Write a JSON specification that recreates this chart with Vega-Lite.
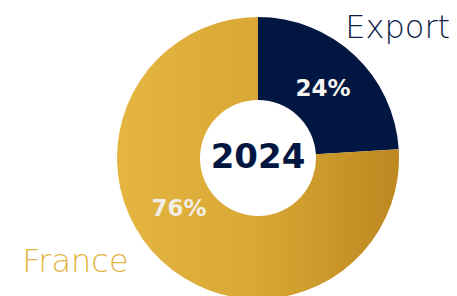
{
  "$schema": "https://vega.github.io/schema/vega-lite/v6.json",
  "width": 398,
  "height": 276,
  "autosize": {"type": "none"},
  "padding": {"left": 59, "top": 20, "right": 0, "bottom": 0},
  "background": "white",
  "datasets": {
    "shares": [
      {"category": "Export", "value": 0.24},
      {"category": "France", "value": 0.76}
    ],
    "year": [{"year": "2024"}]
  },
  "data": {"name": "shares"},
  "config": {"view": {"stroke": null}},
  "layer": [
    {
      "mark": {"type": "arc", "innerRadius": 58, "outerRadius": 141},
      "encoding": {
        "theta": {"field": "value", "type": "quantitative", "stack": true},
        "detail": {"field": "category"},
        "color": {
          "condition": {"test": "datum.category === 'Export'", "value": "#011641"},
          "value": {
            "gradient": "linear", "x1": 0, "y1": 0, "x2": 1, "y2": 0,
            "stops": [
              {"offset": 0, "color": "#E4B641"},
              {"offset": 0.5, "color": "#D9A735"},
              {"offset": 1, "color": "#BD8820"}
            ]
          }
        }
      }
    },
    {
      "mark": {"type": "text", "radius": 95, "font": "DejaVu Sans", "fontSize": 23, "fontWeight": 600, "align": "center", "baseline": "middle", "fill": "#F6F4F0"},
      "encoding": {
        "theta": {"field": "value", "type": "quantitative", "stack": true},
        "detail": {"field": "category"},
        "text": {
          "condition": {"test": "datum.category === 'Export'", "field": "value", "type": "quantitative", "format": ".0%"},
          "value": ""
        }
      }
    },
    {
      "mark": {"type": "text", "radius": 95, "dx": -14, "dy": -18, "font": "DejaVu Sans", "fontSize": 23, "fontWeight": 600, "align": "center", "baseline": "middle", "fill": "#F1EEE6"},
      "encoding": {
        "theta": {"field": "value", "type": "quantitative", "stack": true},
        "detail": {"field": "category"},
        "text": {
          "condition": {"test": "datum.category === 'France'", "field": "value", "type": "quantitative", "format": ".0%"},
          "value": ""
        }
      }
    },
    {
      "mark": {"type": "text", "radius": 191, "dx": 9, "dy": 9, "font": "DejaVu Sans", "fontSize": 32, "fontWeight": 300, "align": "center", "baseline": "middle", "fill": "#0B1B45"},
      "encoding": {
        "theta": {"field": "value", "type": "quantitative", "stack": true},
        "detail": {"field": "category"},
        "text": {
          "condition": {"test": "datum.category === 'Export'", "field": "category", "type": "nominal"},
          "value": ""
        }
      }
    },
    {
      "mark": {"type": "text", "radius": 201, "dx": -45, "dy": -43, "font": "DejaVu Sans", "fontSize": 32, "fontWeight": 300, "align": "center", "baseline": "middle", "fill": "#E2B441"},
      "encoding": {
        "theta": {"field": "value", "type": "quantitative", "stack": true},
        "detail": {"field": "category"},
        "text": {
          "condition": {"test": "datum.category === 'France'", "field": "category", "type": "nominal"},
          "value": ""
        }
      }
    },
    {
      "data": {"name": "year"},
      "mark": {"type": "text", "font": "DejaVu Sans", "fontSize": 34, "fontWeight": "bold", "align": "center", "baseline": "middle", "fill": "#011641"},
      "encoding": {
        "text": {"field": "year", "type": "nominal"}
      }
    }
  ]
}
